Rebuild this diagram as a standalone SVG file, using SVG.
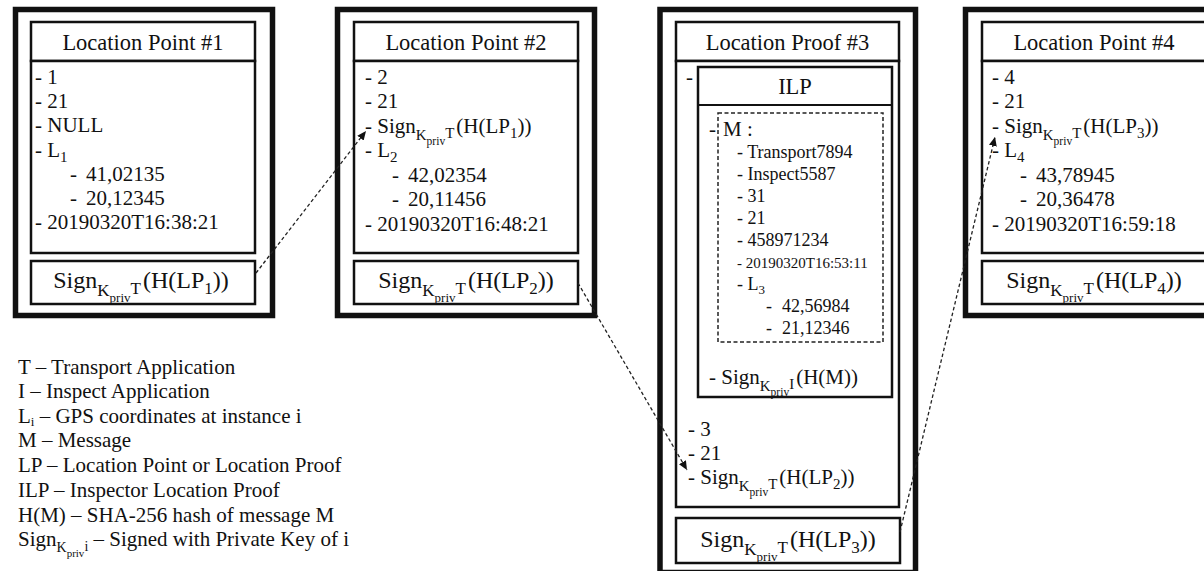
<svg xmlns="http://www.w3.org/2000/svg" width="1204" height="571" viewBox="0 0 1204 571">
<style>
text{font-family:"Liberation Serif","Times New Roman",serif;fill:#111}
.h{font-size:22.5px;text-anchor:middle}
.b{font-size:21px}
.sc{font-size:24px;text-anchor:middle}
.sub{font-size:17px}
.ss{font-size:13px}
.bsub{font-size:15px}
.bss{font-size:11.5px}
.m{font-size:18px}
.d{font-size:15px}
.outer{fill:none;stroke:#111;stroke-width:5.5}
.inner{fill:#fff;stroke:#111;stroke-width:2.5}
.dash{fill:none;stroke:#222;stroke-width:1.5;stroke-dasharray:4 2.5}
.conn{fill:none;stroke:#222;stroke-width:1.3;stroke-dasharray:3.5 2.5}
</style>
<defs>
<marker id="ah" markerUnits="userSpaceOnUse" markerWidth="10" markerHeight="8" refX="9" refY="4" orient="auto">
<path d="M0,0 L9,4 L0,8 z" fill="#111"/>
</marker>
</defs>
<rect width="1204" height="571" fill="#fff"/>

<g id="lp1">
<rect class="outer" x="15.5" y="9.5" width="257" height="306"/>
<rect class="inner" x="31" y="22" width="224" height="39"/>
<rect class="inner" x="31" y="61" width="224" height="192"/>
<rect class="inner" x="31" y="261" width="224" height="43"/>
<text class="h" x="143" y="50">Location Point #1</text>
<text class="b" x="35" y="84">- 1</text>
<text class="b" x="35" y="108">- 21</text>
<text class="b" x="35" y="132">- NULL</text>
<text class="b" x="35" y="157">- L<tspan class="bsub" dy="5">1</tspan></text>
<text class="b" x="70" y="181">-<tspan x="86">41,02135</tspan></text>
<text class="b" x="70" y="205">-<tspan x="86">20,12345</tspan></text>
<text class="b" x="35" y="229">- 20190320T16:38:21</text>
<text class="sc" x="141" y="288">Sign<tspan class="sub" dy="8">K</tspan><tspan class="ss" dy="6">priv</tspan><tspan class="sub" dy="-8">T</tspan><tspan dx="2" dy="-6">(H(LP</tspan><tspan class="sub" dy="6">1</tspan><tspan dy="-6">))</tspan></text>
</g>

<g id="lp2">
<rect class="outer" x="337.5" y="9.5" width="257" height="306"/>
<rect class="inner" x="354" y="22" width="224" height="39"/>
<rect class="inner" x="354" y="61" width="224" height="192"/>
<rect class="inner" x="354" y="261" width="224" height="43"/>
<text class="h" x="466" y="50">Location Point #2</text>
<text class="b" x="365" y="84">- 2</text>
<text class="b" x="365" y="108">- 21</text>
<text class="b" x="365" y="133">- Sign<tspan class="bsub" dy="7">K</tspan><tspan class="bss" dy="5">priv</tspan><tspan class="bsub" dy="-7">T</tspan><tspan dx="2" dy="-5">(H(LP</tspan><tspan class="bsub" dy="5">1</tspan><tspan dy="-5">))</tspan></text>
<text class="b" x="365" y="157">- L<tspan class="bsub" dy="5">2</tspan></text>
<text class="b" x="392" y="182">-<tspan x="408">42,02354</tspan></text>
<text class="b" x="392" y="206">-<tspan x="408">20,11456</tspan></text>
<text class="b" x="365" y="231">- 20190320T16:48:21</text>
<text class="sc" x="466" y="288">Sign<tspan class="sub" dy="8">K</tspan><tspan class="ss" dy="6">priv</tspan><tspan class="sub" dy="-8">T</tspan><tspan dx="2" dy="-6">(H(LP</tspan><tspan class="sub" dy="6">2</tspan><tspan dy="-6">))</tspan></text>
</g>

<g id="lp3">
<rect class="outer" x="660" y="9.5" width="255.5" height="563"/>
<rect class="inner" x="676" y="22" width="223" height="39"/>
<rect class="inner" x="676" y="61" width="223" height="446"/>
<rect class="inner" x="676" y="518" width="224" height="45"/>
<text class="h" x="787.5" y="50">Location Proof #3</text>
<text class="b" x="686" y="84">-</text>
<g id="ilp">
<rect class="inner" x="698" y="67" width="194" height="330"/>
<line x1="698" y1="105" x2="892" y2="105" stroke="#111" stroke-width="2"/>
<text class="h" x="795" y="94">ILP</text>
<rect class="dash" x="718" y="113" width="165" height="229"/>
<text class="b" x="709" y="136">-</text>
<text class="b" x="723" y="136">M :</text>
<text class="m" x="737" y="158">- Transport7894</text>
<text class="m" x="737" y="180">- Inspect5587</text>
<text class="m" x="737" y="202">- 31</text>
<text class="m" x="737" y="224">- 21</text>
<text class="m" x="737" y="246">- 458971234</text>
<text class="d" x="737" y="268">- 20190320T16:53:11</text>
<text class="m" x="737" y="290">-  L<tspan font-size="13" dy="4">3</tspan></text>
<text class="m" x="766" y="312">-<tspan x="782">42,56984</tspan></text>
<text class="m" x="766" y="334">-<tspan x="782">21,12346</tspan></text>
<text class="b" x="709" y="384">- Sign<tspan class="bsub" dy="7">K</tspan><tspan class="bss" dy="5">priv</tspan><tspan class="bsub" dy="-7">I</tspan><tspan dx="2" dy="-5">(H(M))</tspan></text>
</g>
<text class="b" x="688" y="436">- 3</text>
<text class="b" x="688" y="460">- 21</text>
<text class="b" x="688" y="484">- Sign<tspan class="bsub" dy="7">K</tspan><tspan class="bss" dy="5">priv</tspan><tspan class="bsub" dy="-7">T</tspan><tspan dx="2" dy="-5">(H(LP</tspan><tspan class="bsub" dy="5">2</tspan><tspan dy="-5">))</tspan></text>
<text class="sc" x="788" y="547">Sign<tspan class="sub" dy="8">K</tspan><tspan class="ss" dy="6">priv</tspan><tspan class="sub" dy="-8">T</tspan><tspan dx="2" dy="-6">(H(LP</tspan><tspan class="sub" dy="6">3</tspan><tspan dy="-6">))</tspan></text>
</g>

<g id="lp4">
<rect class="outer" x="965.5" y="9.5" width="257" height="306"/>
<rect class="inner" x="982" y="22" width="224" height="39"/>
<rect class="inner" x="982" y="61" width="224" height="192"/>
<rect class="inner" x="982" y="261" width="224" height="43"/>
<text class="h" x="1094" y="50">Location Point #4</text>
<text class="b" x="992" y="84">- 4</text>
<text class="b" x="992" y="108">- 21</text>
<text class="b" x="992" y="133">- Sign<tspan class="bsub" dy="7">K</tspan><tspan class="bss" dy="5">priv</tspan><tspan class="bsub" dy="-7">T</tspan><tspan dx="2" dy="-5">(H(LP</tspan><tspan class="bsub" dy="5">3</tspan><tspan dy="-5">))</tspan></text>
<text class="b" x="992" y="157">- L<tspan class="bsub" dy="5">4</tspan></text>
<text class="b" x="1020" y="182">-<tspan x="1036">43,78945</tspan></text>
<text class="b" x="1020" y="206">-<tspan x="1036">20,36478</tspan></text>
<text class="b" x="992" y="231">- 20190320T16:59:18</text>
<text class="sc" x="1094" y="288">Sign<tspan class="sub" dy="8">K</tspan><tspan class="ss" dy="6">priv</tspan><tspan class="sub" dy="-8">T</tspan><tspan dx="2" dy="-6">(H(LP</tspan><tspan class="sub" dy="6">4</tspan><tspan dy="-6">))</tspan></text>
</g>

<g id="legend">
<text class="b" x="18" y="374">T – Transport Application</text>
<text class="b" x="18" y="398">I – Inspect Application</text>
<text class="b" x="18" y="423">L<tspan font-size="13" dy="3">i</tspan><tspan dy="-3"> – GPS coordinates at instance i</tspan></text>
<text class="b" x="18" y="447">M – Message</text>
<text class="b" x="18" y="472">LP – Location Point or Location Proof</text>
<text class="b" x="18" y="497">ILP – Inspector Location Proof</text>
<text class="b" x="18" y="522">H(M) – SHA-256 hash of message M</text>
<text class="b" x="18" y="546">Sign<tspan font-size="14" dy="6">K</tspan><tspan font-size="11" dy="5">priv</tspan><tspan font-size="14" dy="-6">i</tspan><tspan dy="-5"> – Signed with Private Key of i</tspan></text>
</g>

<g id="connectors">
<line class="conn" x1="256" y1="273" x2="366" y2="131" marker-end="url(#ah)"/>
<line class="conn" x1="578" y1="283" x2="687" y2="470" marker-end="url(#ah)"/>
<line class="conn" x1="900" y1="532" x2="995" y2="137" marker-end="url(#ah)"/>
</g>
</svg>
